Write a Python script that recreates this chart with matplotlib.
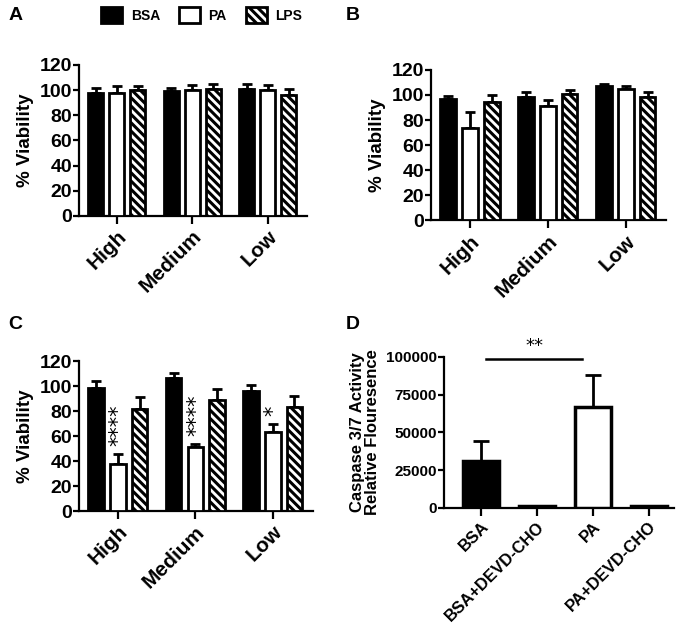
import matplotlib.pyplot as plt
import numpy as np
from matplotlib.patches import Patch

plt.rcParams['font.family'] = ['Liberation Sans', 'DejaVu Sans']
plt.rcParams['font.weight'] = 'bold'
plt.rcParams['axes.labelweight'] = 'bold'
plt.rcParams['hatch.linewidth'] = 2.2

doses = ["High", "Medium", "Low"]
treatments = ["BSA", "PA", "LPS"]

# panel A
a_mean = {"BSA": [98, 99, 101], "PA": [98, 100, 100], "LPS": [100, 101, 96]}
a_err = {"BSA": [4, 3, 4], "PA": [5, 4, 4], "LPS": [3, 4, 5]}
# panel B
b_mean = {"BSA": [97, 98, 107], "PA": [74, 91, 105], "LPS": [94, 101, 98]}
b_err = {"BSA": [2, 4, 2], "PA": [12, 5, 2], "LPS": [6, 3, 4]}
# panel C
c_mean = {"BSA": [99, 107, 96], "PA": [38, 51, 63], "LPS": [82, 89, 83]}
c_err = {"BSA": [5, 4, 5], "PA": [8, 3, 7], "LPS": [9, 9, 9]}
c_stars = ["****", "****", "*"]

# panel D
d_labels = ["BSA", "BSA+DEVD-CHO", "PA", "PA+DEVD-CHO"]
d_mean = [31000, 1000, 67000, 1000]
d_err = [13000, 500, 21000, 300]
d_fill = ["black", "black", "white", "black"]

styles = {"BSA": dict(color="black", hatch=None),
          "PA": dict(color="white", hatch=None),
          "LPS": dict(color="white", hatch="\\\\\\\\")}

fig = plt.figure(figsize=(6.82, 6.24), dpi=100)


def style_axes(ax, fs=14, xfs=15):
    for s in ["top", "right"]:
        ax.spines[s].set_visible(False)
    for s in ["left", "bottom"]:
        ax.spines[s].set_linewidth(1.6)
    ax.tick_params(axis="y", width=1.6, length=4, labelsize=fs, pad=1)
    ax.tick_params(axis="x", width=1.6, length=6, labelsize=xfs, pad=2)


def viability(ax, means, errs):
    x = np.arange(len(doses))
    offs = [-0.28, 0, 0.28]
    for t, o in zip(treatments, offs):
        st = styles[t]
        ax.bar(x + o, means[t], 0.2, color=st["color"], edgecolor="black",
               linewidth=2, hatch=st["hatch"], zorder=3)
        ax.errorbar(x + o, means[t], yerr=[np.zeros(3), errs[t]], fmt="none",
                    ecolor="black", elinewidth=2, capsize=3.5, capthick=2, zorder=2)
    ax.set_xlim(-0.5, 2.52)
    ax.set_ylim(0, 120)
    ax.set_yticks(range(0, 121, 20))
    ax.set_xticks(x)
    ax.set_xticklabels(doses, rotation=45, ha="right", rotation_mode="anchor")
    ax.set_ylabel("% Viability", fontsize=13.5, labelpad=4)
    style_axes(ax)


axA = fig.add_axes([0.116, 0.654, 0.334, 0.242])
viability(axA, a_mean, a_err)
axB = fig.add_axes([0.632, 0.647, 0.345, 0.241])
viability(axB, b_mean, b_err)
axC = fig.add_axes([0.116, 0.181, 0.343, 0.240])
viability(axC, c_mean, c_err)

for i, s in enumerate(c_stars):
    top = c_mean["PA"][i] + c_err["PA"][i] + 6
    axC.text(i + 0.01, top, s, rotation=90, ha="center", va="bottom",
             fontsize=15, fontweight="normal", family="DejaVu Sans")

axD = fig.add_axes([0.651, 0.186, 0.337, 0.242])
xd = np.arange(len(d_labels))
axD.bar(xd, d_mean, 0.64, color=d_fill, edgecolor="black", linewidth=2.5, zorder=3)
axD.errorbar(xd, d_mean, yerr=[np.zeros(4), d_err], fmt="none", ecolor="black",
             elinewidth=2, capsize=6, capthick=2, zorder=2)
axD.set_xlim(-0.66, 3.45)
axD.set_ylim(0, 100000)
axD.set_yticks(range(0, 100001, 25000))
axD.set_xticks(xd)
axD.set_xticklabels(d_labels, rotation=45, ha="right", rotation_mode="anchor")
axD.set_ylabel("Caspase 3/7 Activity\nRelative Flouresence", fontsize=12,
               labelpad=4, linespacing=1.05)
style_axes(axD, fs=11, xfs=12)
axD.plot([0.1, 1.8], [98500, 98500], color="black", lw=1.8, clip_on=False)
axD.text(0.95, 101000, "**", ha="center", va="bottom", fontsize=13,
         fontweight="normal", family="DejaVu Sans")

# legend
handles = [Patch(facecolor=styles[t]["color"], edgecolor="black", linewidth=2,
                 hatch=styles[t]["hatch"], label=t) for t in treatments]
fig.legend(handles=handles, loc="center", bbox_to_anchor=(0.296, 0.976), ncol=3,
           frameon=False, fontsize=10, handlelength=1.5, handleheight=1.5,
           columnspacing=1.4, handletextpad=0.6, borderpad=0)

for lab, x, y in [("A", 0.012, 0.975), ("B", 0.507, 0.975), ("C", 0.012, 0.48), ("D", 0.507, 0.48)]:
    fig.text(x, y, lab, fontsize=14, fontweight="bold", va="center")

fig.savefig("out.png", dpi=100)
